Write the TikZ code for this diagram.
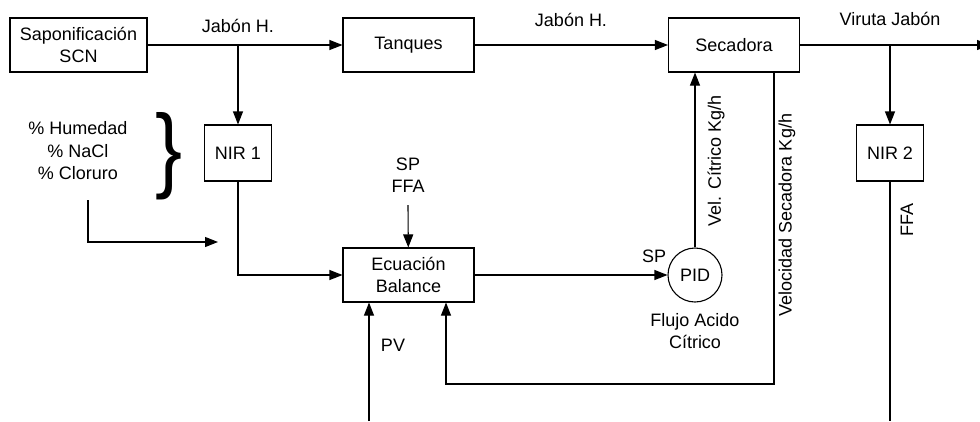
\documentclass[tikz,border=0pt]{standalone}
\usepackage{fontspec}
\setmainfont{Liberation Sans}
\usepackage{tikz}
\usetikzlibrary{arrows.meta}

\tikzset{
  bloque/.style={draw, rectangle, line width=1.1pt, minimum width=131pt, minimum height=54pt, align=center, inner sep=0pt},
  nir/.style={draw, rectangle, line width=1.1pt, minimum width=67pt, minimum height=56pt, inner sep=0pt},
  flecha/.style={line width=1.1pt, -{Triangle[length=13pt,width=10pt]}},
  linea/.style={line width=1.1pt},
  etiq/.style={align=center, inner sep=0pt}
}

\begin{document}
\begin{tikzpicture}[x=1pt, y=-1pt, font=\fontsize{18}{22.5}\selectfont]
    \useasboundingbox (0,0) rectangle (980,421);

    % bloques
    \node[bloque, minimum width=137pt] (sap) at (78.5,45) {Saponificación\\SCN};
    \node[bloque] (tanq) at (408.5,45) {Tanques};
    \node[bloque] (sec) at (734,45) {Secadora};
    \node[nir] (nir1) at (238,153) {NIR 1};
    \node[nir] (nir2) at (890,153) {NIR 2};
    \node[bloque] (ecu) at (408.5,275) {Ecuación\\Balance};
    \node[circle, draw, line width=1.1pt, minimum size=54pt, inner sep=0pt] (pid) at (695,275) {PID};

    % etiquetas
    \node[etiq] (jab1) at (238,26) {Jabón H.};
    \node[etiq] (jab2) at (571,20) {Jabón H.};
    \node[etiq] (viruta) at (890,19) {Viruta Jabón};
    \node[etiq] (medidas) at (78,151) {\% Humedad\\\% NaCl\\\% Cloruro};
    \node[etiq] (llave) at (169,156) {\resizebox{27pt}{68pt}{\}}};
    \node[etiq] (spffa) at (408,175) {SP\\FFA};
    \node[etiq] (pv) at (393,345) {PV};
    \node[etiq] (sp) at (654,256) {SP};
    \node[etiq] (flujo) at (695,331) {Flujo Acido\\Cítrico};
    \node[etiq, rotate=90] (velcit) at (716,161) {Vel. Cítrico Kg/h};
    \node[etiq, rotate=90] (velsec) at (787,215) {Velocidad Secadora Kg/h};
    \node[etiq, rotate=90] (ffa) at (907,220) {FFA};

    % puntos libres
    \coordinate (b1) at (238,45);
    \coordinate (b2) at (890,45);
    \coordinate (salida) at (990,45);
    \coordinate (m0) at (88,200);
    \coordinate (m1) at (218,242);
    \coordinate (s0) at (408,205);
    \coordinate (pvin) at (369,421);
    \coordinate (r0) at (774,384);
    \coordinate (r1) at (446,384);
    \coordinate (n2out) at (890,421);

    \draw[flecha] (sap) -- (tanq);
    \draw[flecha] (tanq) -- (sec);
    \draw[flecha] (sec) -- (salida);
    \draw[flecha] (b1) -- (nir1);
    \draw[flecha] (b2) -- (nir2);
    \draw[linea] (nir2) -- (n2out);

    \draw[flecha] (m0) |- (m1);
    \draw[flecha] (nir1) |- (ecu);
    \draw[flecha] (s0) -- (ecu);
    \draw[flecha] (pvin) -- (pvin |- ecu.south);
    \draw[flecha] (r0 |- sec.south) -- (r0) -- (r1) -- (r1 |- ecu.south);
    \draw[flecha] (ecu) -- (pid);
    \draw[flecha] (pid) -- (pid |- sec.south);
\end{tikzpicture}
\end{document}
